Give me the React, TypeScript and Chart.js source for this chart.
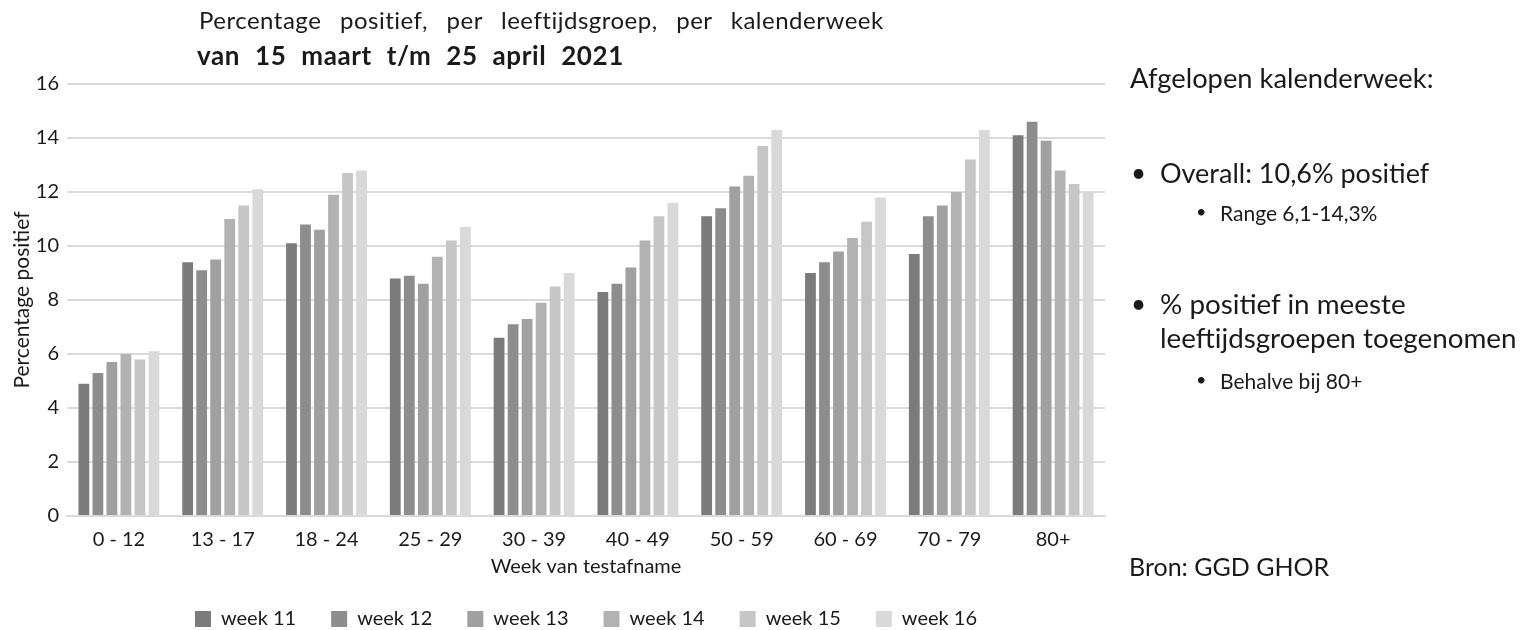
import React, { useEffect, useRef } from "react";
import { Chart, registerables } from "chart.js";

Chart.register(...registerables);

const ageGroups = ["0 - 12", "13 - 17", "18 - 24", "25 - 29", "30 - 39", "40 - 49", "50 - 59", "60 - 69", "70 - 79", "80+"];
const weekLabels = ["week 11", "week 12", "week 13", "week 14", "week 15", "week 16"];
const week11 = [4.9, 9.4, 10.1, 8.8, 6.6, 8.3, 11.1, 9.0, 9.7, 14.1];
const week12 = [5.3, 9.1, 10.8, 8.9, 7.1, 8.6, 11.4, 9.4, 11.1, 14.6];
const week13 = [5.7, 9.5, 10.6, 8.6, 7.3, 9.2, 12.2, 9.8, 11.5, 13.9];
const week14 = [6.0, 11.0, 11.9, 9.6, 7.9, 10.2, 12.6, 10.3, 12.0, 12.8];
const week15 = [5.8, 11.5, 12.7, 10.2, 8.5, 11.1, 13.7, 10.9, 13.2, 12.3];
const week16 = [6.1, 12.1, 12.8, 10.7, 9.0, 11.6, 14.3, 11.8, 14.3, 12.0];
const weekColors = ["#7b7b7b", "#8d8d8d", "#a0a0a0", "#b2b2b2", "#c6c6c6", "#d9d9d9"];
const yMin = 0;
const yMax = 16;
const yStep = 2;

const titleLine1 = "Percentage positief, per leeftijdsgroep, per kalenderweek";
const titleLine2 = "van 15 maart t/m 25 april 2021";
const xTitle = "Week van testafname";
const yTitle = "Percentage positief";

const FONT = "Lato, 'Open Sans', sans-serif";
const TEXT = "#1a1a1a";

export default function App() {
  const ref = useRef<HTMLCanvasElement | null>(null);

  useEffect(() => {
    if (!ref.current) return;
    const series = [week11, week12, week13, week14, week15, week16];
    const chart = new Chart(ref.current, {
      type: "bar",
      data: {
        labels: ageGroups,
        datasets: series.map((d, i) => ({
          label: weekLabels[i],
          data: d,
          backgroundColor: weekColors[i],
          borderWidth: 0,
          categoryPercentage: 0.81,
          barPercentage: 0.77,
        })),
      },
      options: {
        animation: false,
        responsive: false,
        maintainAspectRatio: false,
        layout: { padding: { left: 4, top: 84, right: 418, bottom: 0 } },
        plugins: {
          tooltip: { enabled: false },
          title: { display: false },
          legend: {
            position: "bottom",
            fullSize: false,
            maxHeight: 56,
            labels: {
              boxWidth: 16,
              boxHeight: 16,
              padding: 35,
              color: TEXT,
              font: { family: FONT, size: 20 },
            },
          },
        },
        scales: {
          x: {
            grid: { display: false, drawTicks: false },
            border: { display: true, color: "#d9d9d9", width: 2 },
            ticks: { padding: 12, color: TEXT, font: { family: FONT, size: 20 } },
            title: { display: true, text: xTitle, color: TEXT, padding: { top: 0, bottom: -5 }, font: { family: FONT, size: 20 } },
            afterFit: (s: any) => {
              s.height = 58;
            },
          },
          y: {
            min: yMin,
            max: yMax,
            ticks: { stepSize: yStep, padding: 8, color: TEXT, font: { family: FONT, size: 20 } },
            grid: { color: "#dadada", lineWidth: 2, drawTicks: false },
            border: { display: false },
            title: { display: true, text: yTitle, color: TEXT, padding: { top: 6, bottom: 0 }, font: { family: FONT, size: 21 } },
            afterFit: (s: any) => {
              s.width = 63;
            },
          },
        },
      },
    });
    return () => chart.destroy();
  }, []);

  const abs = (left: number, top: number, size: number, extra: any = {}) => ({
    position: "absolute" as const,
    left,
    top,
    fontSize: size,
    lineHeight: `${size}px`,
    fontFamily: FONT,
    color: TEXT,
    whiteSpace: "nowrap" as const,
    ...extra,
  });

  return (
    <div style={{ position: "absolute", left: 0, top: 0, width: 1523, height: 630, background: "#fff", overflow: "hidden" }}>
      <canvas ref={ref} width={1523} height={630} style={{ position: "absolute", left: 0, top: 0 }} />
      <div style={abs(199, 8, 24, { wordSpacing: 12, letterSpacing: 0.5 })}>{titleLine1}</div>
      <div style={abs(197, 42, 26, { fontWeight: 700, wordSpacing: 8, letterSpacing: 0.6 })}>{titleLine2}</div>

      <div style={abs(1130, 64, 27.3)}>Afgelopen kalenderweek:</div>
      <div style={abs(1131, 159, 26)}>•</div>
      <div style={abs(1160, 159, 27)}>Overall: 10,6% positief</div>
      <div style={abs(1196, 202, 18)}>•</div>
      <div style={abs(1220, 202, 21)}>Range 6,1-14,3%</div>
      <div style={abs(1131, 290, 26)}>•</div>
      <div style={abs(1160, 290, 27.8)}>% positief in meeste</div>
      <div style={abs(1160, 324, 27.8)}>leeftijdsgroepen toegenomen</div>
      <div style={abs(1196, 370, 18)}>•</div>
      <div style={abs(1220, 370, 21)}>Behalve bij 80+</div>
      <div style={abs(1129, 554, 25)}>Bron: GGD GHOR</div>
    </div>
  );
}
